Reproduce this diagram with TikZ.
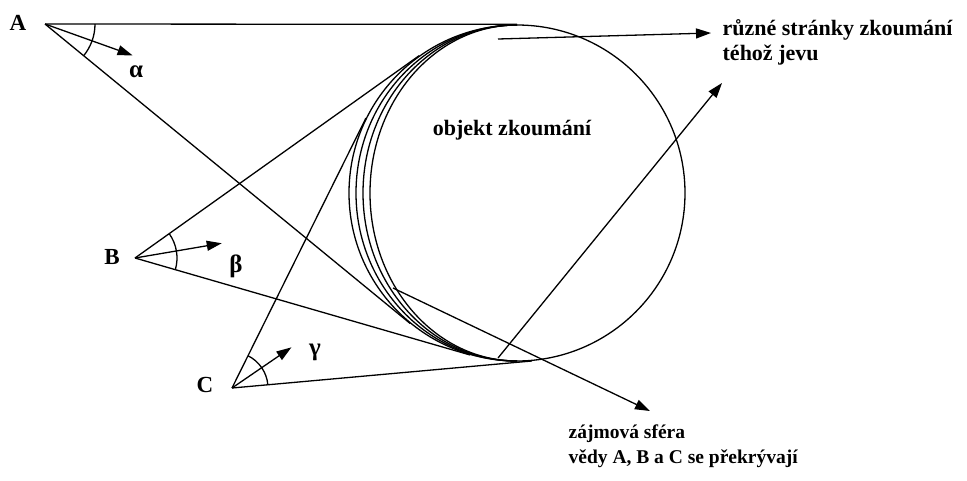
\documentclass[tikz,border=0pt]{standalone}
\usepackage{fontspec}
\setmainfont{Liberation Serif}
\usetikzlibrary{arrows.meta, calc, angles}

\begin{document}
\begin{tikzpicture}[x=1pt, y=1pt, line width=1.3pt, >={Triangle[length=15pt,width=10pt]},
    lbl/.style={font=\bfseries\fontsize{23}{24}\selectfont, inner sep=0pt},
    txt/.style={font=\bfseries\fontsize{#1}{25}\selectfont, inner sep=0pt, align=left, anchor=north west},
    anglearc/.style={draw, angle radius=#1}]
    \useasboundingbox (0,0) rectangle (967,-480);

    \node[circle, draw, minimum size=336pt, inner sep=0pt] (objekt) at (517,-193) {};
    \foreach \rx in {161,154,147}
        \draw (517,-25) arc[start angle=90, end angle=270, x radius=\rx, y radius=168];

    \coordinate (A) at (45,-24);
    \coordinate (B) at (135,-258);
    \coordinate (C) at (232,-388);

    \coordinate (tA1) at (tangent cs:node=objekt, point={(A)}, solution=1);
    \coordinate (tA2) at (tangent cs:node=objekt, point={(A)}, solution=2);
    \coordinate (tB1) at (tangent cs:node=objekt, point={(B)}, solution=1);
    \coordinate (tB2) at (tangent cs:node=objekt, point={(B)}, solution=2);
    \coordinate (tC1) at (tangent cs:node=objekt, point={(C)}, solution=1);
    \coordinate (tC2) at (tangent cs:node=objekt, point={(C)}, solution=2);

    \draw (A) -- (tA1) (A) -- (tA2);
    \draw (B) -- (tB1) (B) -- (tB2);
    \draw (C) -- (tC1) (C) -- (tC2);

    \pic[anglearc=50pt] {angle=tA1--A--tA2};
    \pic[anglearc=42pt] {angle=tB1--B--tB2};
    \pic[anglearc=36pt] {angle=tC1--C--tC2};

    \draw[->] (A) -- ($(A)!93pt!($(tA1)!.5!(tA2)$)$);
    \draw[->] (B) -- ($(B)!88pt!($(tB1)!.5!(tB2)$)$);
    \draw[->] (C) -- ($(C)!72pt!($(tC1)!.5!(tC2)$)$);

    \node[lbl] (lblA) at (18,-23) {A};
    \node[lbl] (lblB) at (112,-257) {B};
    \node[lbl] (lblC) at (205,-385) {C};
    \node[lbl, font=\bfseries\fontsize{25}{26}\selectfont] (alpha) at (136,-72) {α};
    \node[lbl, font=\bfseries\fontsize{25}{26}\selectfont] (beta) at (236,-266) {β};
    \node[lbl, font=\bfseries\fontsize{25}{26}\selectfont] (gamma) at (315,-352) {γ};

    \node[lbl, font=\bfseries\fontsize{22}{24}\selectfont] (objtxt) at (512,-130) {objekt zkoumání};
    \node[txt=22] (ruzne) at (722,-19) {různé stránky zkoumání\\téhož jevu};
    \node[txt=19.5] (sfera) at (568,-424) {zájmová sféra\\vědy A, B a C se překrývají};

    \coordinate (r1) at (498,-39);
    \coordinate (r1end) at (711,-33);
    \coordinate (r2) at (498,-358);
    \coordinate (r2end) at (722,-83);
    \coordinate (s1) at (393,-288);
    \coordinate (s1end) at (650,-411);
    \draw[->] (r1) -- (r1end);
    \draw[->] (r2) -- (r2end);
    \draw[->] (s1) -- (s1end);
\end{tikzpicture}
\end{document}
